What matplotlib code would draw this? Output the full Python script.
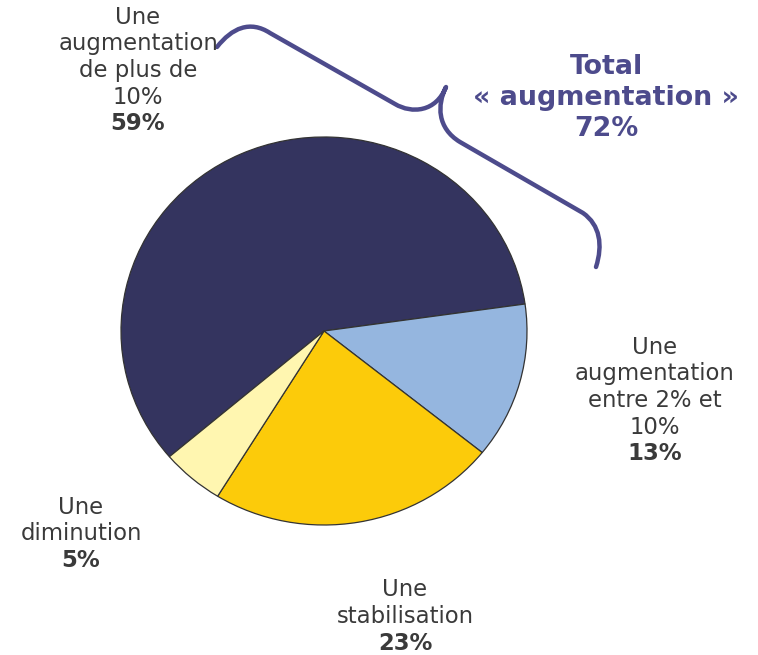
import matplotlib.pyplot as plt
from matplotlib.path import Path
from matplotlib.patches import PathPatch

# Data
categories = ["Une\naugmentation\nde plus de\n10%",
              "Une\naugmentation\nentre 2% et\n10%",
              "Une\nstabilisation",
              "Une\ndiminution"]
values = [59, 13, 23, 5]
colors = ['#34345f', '#95b6df', '#fccb0a', '#fff6b0']
total_label = "Total\n« augmentation »"
total_value = values[0] + values[1]

W, H = 758, 655
fig = plt.figure(figsize=(W / 100, H / 100), dpi=100)

# pie, slightly elliptical like the original
ax = fig.add_axes([121 / W, (H - 525) / H, 406 / W, 388 / H])
wedges, _ = ax.pie(values, colors=colors, startangle=220.4, counterclock=False,
                   wedgeprops=dict(edgecolor='#333333', linewidth=0.9))
for w in wedges:
    w.set_clip_on(False)
ax.set_aspect('auto')
ax.set_xlim(-1, 1)
ax.set_ylim(-1, 1)
ax.axis('off')

# overlay in pixel coordinates for labels and the brace
ov = fig.add_axes([0, 0, 1, 1])
ov.set_xlim(0, W)
ov.set_ylim(H, 0)
ov.axis('off')

text_color = '#3a3a3a'
label_pos = [(138, 17), (655, 347), (405, 590), (81, 507)]
step = 26.7
for cat, val, (x, y0) in zip(categories, values, label_pos):
    lines = cat.split('\n')
    for i, line in enumerate(lines):
        ov.text(x, y0 + i * step, line, ha='center', va='center',
                fontsize=16.4, color=text_color)
    ov.text(x, y0 + len(lines) * step, f"{val}%", ha='center', va='center',
            fontsize=16.4, color=text_color, fontweight='bold')

brace_color = '#4d4b8c'
tl = total_label.split('\n') + [f"{total_value}%"]
for i, line in enumerate(tl):
    ov.text(606, 67 + i * 31, line, ha='center', va='center', fontsize=19.4,
            fontweight='bold', color=brace_color)

verts = [(217, 47), (232, 28), (250, 20), (270, 33),
         (395, 104),
         (412, 114), (436, 112), (446, 87),
         (437, 105), (437, 128), (460, 142),
         (583, 213),
         (600, 225), (603, 245), (596, 267)]
codes = [Path.MOVETO, Path.CURVE4, Path.CURVE4, Path.CURVE4,
         Path.LINETO,
         Path.CURVE4, Path.CURVE4, Path.CURVE4,
         Path.CURVE4, Path.CURVE4, Path.CURVE4,
         Path.LINETO,
         Path.CURVE4, Path.CURVE4, Path.CURVE4]
ov.add_patch(PathPatch(Path(verts, codes), facecolor='none', edgecolor=brace_color,
                       linewidth=3.2, capstyle='round', joinstyle='round'))

fig.savefig('out.png', dpi=100)
